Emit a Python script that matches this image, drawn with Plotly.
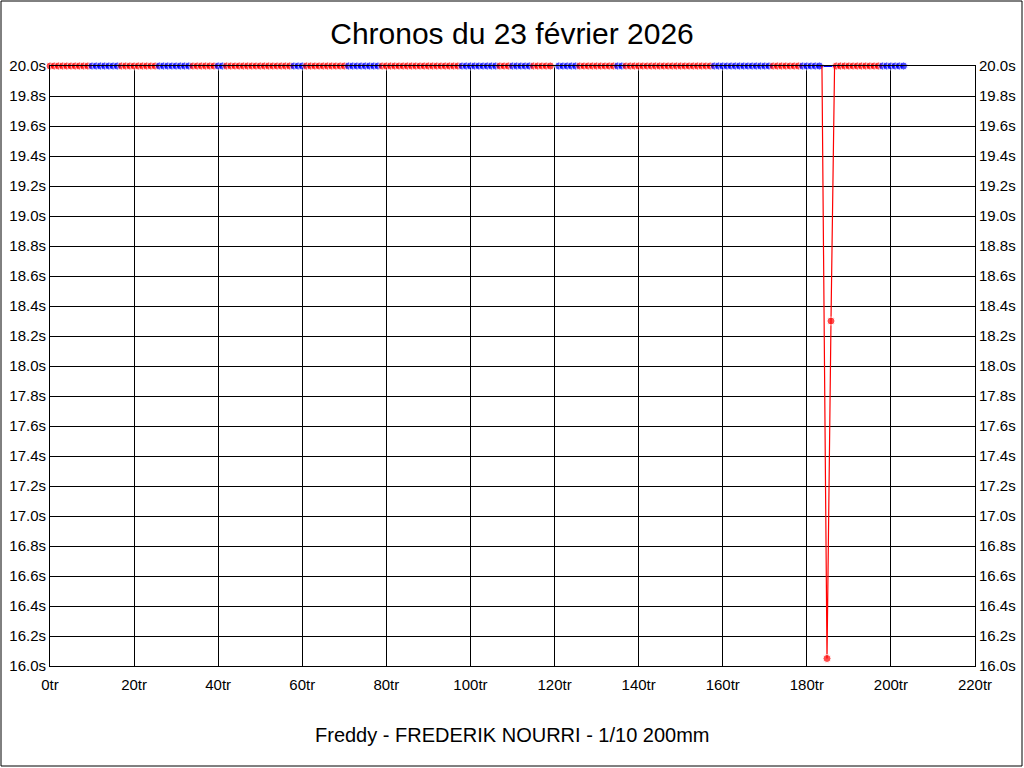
import plotly.graph_objects as go

# Laps ("tr") grouped in consecutive runs; times above 20 s are shown at 20.0 s
run_start = [0, 10, 17, 26, 34, 40, 42, 58, 61, 71, 79, 98, 107, 110, 115,
             121, 126, 135, 137, 153, 158, 172, 179, 187, 198]
run_end = [9, 16, 25, 33, 39, 41, 57, 60, 70, 78, 97, 106, 109, 114, 119,
           125, 134, 136, 152, 157, 171, 178, 183, 197, 203]
run_serie = ["A", "B", "A", "B", "A", "B", "A", "B", "A", "B", "A", "B", "A", "B", "A",
             "B", "A", "B", "A", "A", "B", "A", "B", "A", "B"]
max_time = 20.0

# the only laps under 20 s
dip_tours = [183.6, 184.8, 185.75, 186.6]
dip_times = [20.0, 16.05, 18.3, 20.0]
link_tours = [183, 187]
link_times = [20.0, 20.0]

y_ticks = [16.0, 16.2, 16.4, 16.6, 16.8, 17.0, 17.2, 17.4, 17.6, 17.8, 18.0,
           18.2, 18.4, 18.6, 18.8, 19.0, 19.2, 19.4, 19.6, 19.8, 20.0]
y_labels = [f"{v:.1f}s" for v in y_ticks]

colors = {"A": "#ff0000", "B": "#0000ff"}
FONT = "Liberation Sans, Arial, sans-serif"

fig = go.Figure()

# thin blue link across the dip
fig.add_trace(go.Scatter(x=link_tours, y=link_times, mode="lines",
                         line=dict(color=colors["B"], width=2),
                         hoverinfo="skip", showlegend=False, cliponaxis=False))

for i, (a, b, s) in enumerate(zip(run_start, run_end, run_serie)):
    xs = list(range(a, b + 1))
    sizes = [8] * len(xs)
    # join the line to the next run when laps are contiguous
    if i + 1 < len(run_start) and run_start[i + 1] == b + 1:
        xs.append(b + 1)
        sizes.append(0)
    fig.add_trace(go.Scatter(
        x=xs, y=[max_time] * len(xs), mode="lines+markers",
        line=dict(color=colors[s], width=3),
        marker=dict(color=colors[s], size=sizes),
        showlegend=False, cliponaxis=False,
    ))

fig.add_trace(go.Scatter(
    x=dip_tours, y=dip_times, mode="lines+markers",
    line=dict(color=colors["A"], width=1.2),
    marker=dict(color=colors["A"], size=[0, 8, 8, 0]),
    showlegend=False, cliponaxis=False,
))

# invisible trace so that the right-hand axis is drawn
fig.add_trace(go.Scatter(x=[0], y=[16], yaxis="y2", mode="markers",
                         marker=dict(opacity=0), showlegend=False, hoverinfo="skip"))

axis_common = dict(
    showgrid=True, gridcolor="black", gridwidth=1, automargin=False,
    zeroline=False, showline=True, linecolor="black", linewidth=1,
    ticks="", tickfont=dict(family=FONT, size=15, color="black"),
)

fig.update_layout(
    width=1024, height=768,
    paper_bgcolor="white", plot_bgcolor="white",
    margin=dict(l=50, r=49, t=66, b=102),
    title=dict(text="Chronos du 23 février 2026", x=0.5, xanchor="center",
               y=1 - 33 / 768, yanchor="middle",
               font=dict(family=FONT, size=30, color="black")),
    xaxis=dict(range=[0, 220], dtick=20, ticksuffix="tr", mirror=True,
               ticklabelstandoff=5, **axis_common),
    yaxis=dict(range=[16, 20], tickvals=y_ticks, ticktext=y_labels,
               mirror=True, **axis_common),
    yaxis2=dict(range=[16, 20], tickvals=y_ticks, ticktext=y_labels,
                overlaying="y", side="right", **axis_common),
    annotations=[dict(text="Freddy - FREDERIK NOURRI - 1/10 200mm",
                      xref="paper", yref="paper", x=0.5, y=(666 - 735) / 600,
                      xanchor="center", yanchor="middle", showarrow=False,
                      font=dict(family=FONT, size=20, color="black"))],
    shapes=[dict(type="rect", xref="paper", yref="paper",
                 x0=(1 - 50) / 925, x1=(1022 - 50) / 925,
                 y0=(666 - 766) / 600, y1=(666 - 1) / 600,
                 line=dict(color="black", width=1))],
)

fig.write_html("out.html", config={"displayModeBar": False},
               post_script="document.body.style.margin='0';")
